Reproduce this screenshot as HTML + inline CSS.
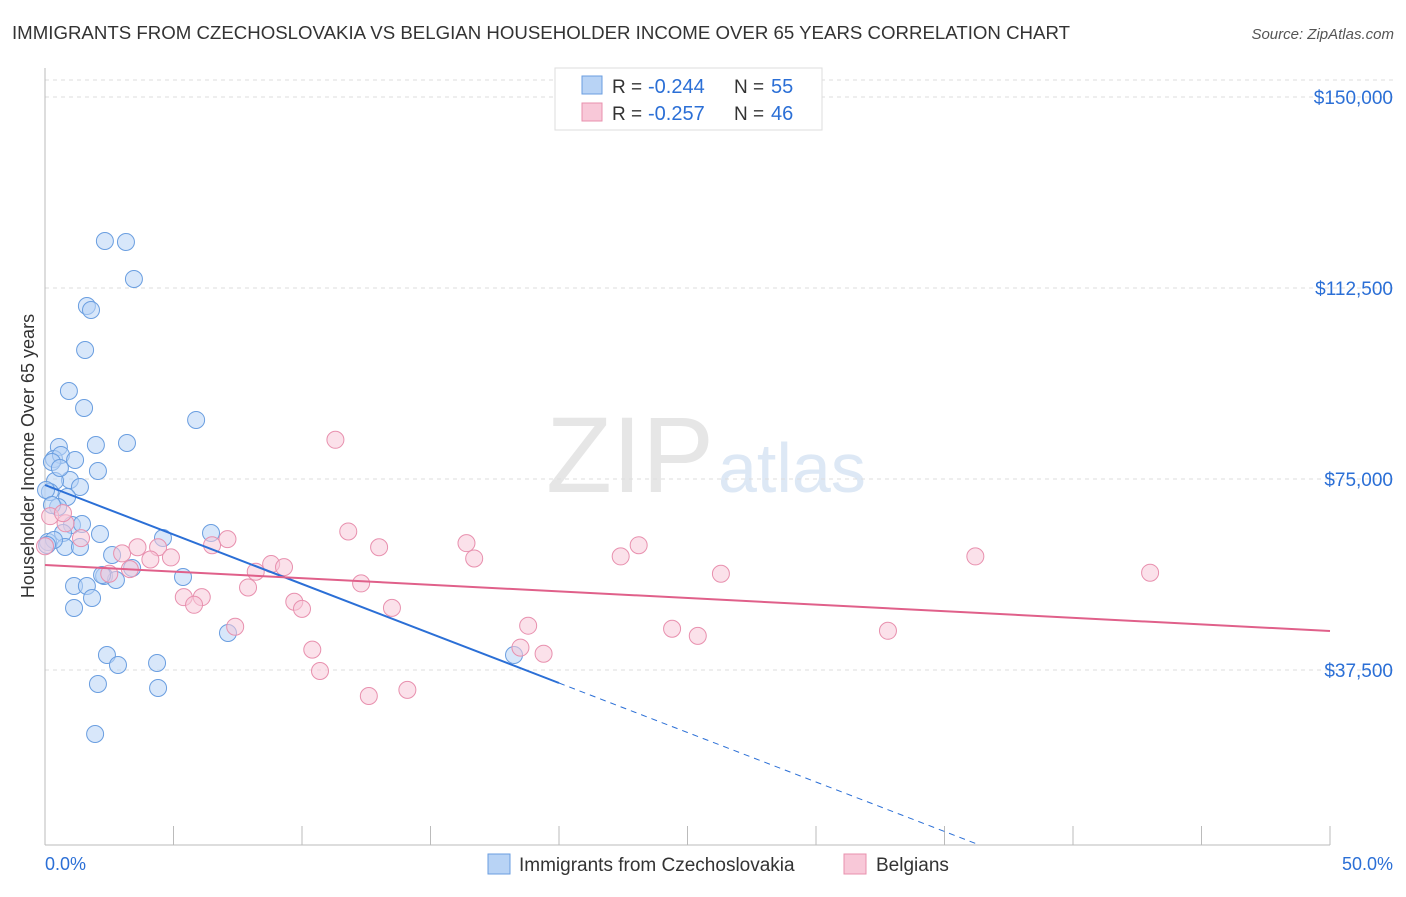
<!DOCTYPE html>
<html><head><meta charset="utf-8"><style>
body{margin:0;background:#fff;font-family:"Liberation Sans",sans-serif;}
svg text{font-family:"Liberation Sans",sans-serif;}
</style></head><body>
<svg id="chart" width="1406" height="892" xmlns="http://www.w3.org/2000/svg">
<text x="12" y="39" font-size="18.5" fill="#333" textLength="1058" lengthAdjust="spacingAndGlyphs">IMMIGRANTS FROM CZECHOSLOVAKIA VS BELGIAN HOUSEHOLDER INCOME OVER 65 YEARS CORRELATION CHART</text>
<text x="1394" y="39" font-size="15" fill="#555" font-style="italic" text-anchor="end">Source: ZipAtlas.com</text>
<text x="714" y="492" font-size="108" fill="#e6e6e6" text-anchor="end" font-family="Liberation Serif">ZIP</text>
<text x="718" y="492" font-size="70" fill="#dde8f5">atlas</text>
<g id="grid"></g><g id="marks"></g>
<text transform="translate(34,456) rotate(-90)" font-size="18" fill="#333" text-anchor="middle">Householder Income Over 65 years</text>
<g>
<rect x="555" y="68" width="267" height="62" fill="#fff" stroke="#ddd"/>
<rect x="582" y="76" width="20" height="18" fill="#b8d3f5" stroke="#6a9ee0"/>
<text x="612" y="93" font-size="19" fill="#333">R =</text>
<text x="648" y="93" font-size="20" fill="#2b6fd6">-0.244</text>
<text x="734" y="93" font-size="19" fill="#333">N =</text>
<text x="771" y="93" font-size="20" fill="#2b6fd6">55</text>
<rect x="582" y="103" width="20" height="18" fill="#f8c8d8" stroke="#e890ae"/>
<text x="612" y="120" font-size="19" fill="#333">R =</text>
<text x="648" y="120" font-size="20" fill="#2b6fd6">-0.257</text>
<text x="734" y="120" font-size="19" fill="#333">N =</text>
<text x="771" y="120" font-size="20" fill="#2b6fd6">46</text>
</g>
<g>
<rect x="488" y="854" width="22" height="20" fill="#b8d3f5" stroke="#6a9ee0"/>
<text x="519" y="871" font-size="19" fill="#333">Immigrants from Czechoslovakia</text>
<rect x="844" y="854" width="22" height="20" fill="#f8c8d8" stroke="#e890ae"/>
<text x="876" y="871" font-size="19" fill="#333">Belgians</text>
</g>
<text x="45" y="870" font-size="18" fill="#2b6fd6">0.0%</text>
<text x="1393" y="870" font-size="18" fill="#2b6fd6" text-anchor="end">50.0%</text>
</svg>
<script>
const yTicks=[37500,75000,112500,150000];
const yTickLabels=["$37,500","$75,000","$112,500","$150,000"];
const blueX=[2.33,3.15,3.46,1.63,1.79,1.56,0.93,1.52,5.88,1.98,3.19,0.54,0.35,0.62,1.17,0.27,2.06,0.97,1.36,0.39,0.19,0.86,0.51,1.05,1.44,0.70,2.14,6.46,4.59,0.12,0.78,1.36,2.61,3.39,5.37,2.30,2.76,1.13,1.63,1.83,1.13,7.12,2.41,2.84,4.36,2.06,4.40,1.95,18.25,0.35,0.04,0.58,0.08,2.22,0.27];
const blueY=[121730,121535,114270,108970,108180,100330,92280,88940,86590,81680,82070,81290,78930,79720,78730,78340,76570,74810,73430,74610,72450,71470,69510,65970,66170,64400,64200,64400,63420,62630,61650,61650,60080,57530,55760,55960,55170,53990,53990,51640,49670,44770,40450,38480,38880,34750,33970,24930,40450,63030,72840,77160,62040,56150,69900];
const pinkX=[11.3,11.8,7.1,6.5,13.0,16.4,16.7,23.1,22.4,36.2,43.0,26.3,3.0,3.6,4.4,4.9,4.1,3.3,8.8,9.3,7.9,12.3,5.4,6.1,5.8,9.7,10.0,13.5,7.4,18.8,24.4,25.4,32.8,10.4,18.5,19.4,10.7,12.6,14.1,0.8,1.4,0.2,0.0,0.7,8.2,2.5];
const pinkY=[82700,64700,63200,62000,61600,62400,59400,62000,59800,59800,56600,56400,60400,61600,61600,59600,59200,57300,58300,57700,53700,54500,51800,51800,50300,50900,49500,49700,46000,46200,45600,44200,45200,41500,41900,40700,37300,32400,33600,66300,63400,67700,61800,68300,56800,56400];
const blueTrend=[[0,73822],[20,34948]];
const blueTrendEnd=50;
const pinkTrend=[[0,58115],[50,45157]];
const X=p=>45+p/50*1285, Y=v=>861-v/37500*191;
const NS="http://www.w3.org/2000/svg";
function mk(t,a,parent){const e=document.createElementNS(NS,t);for(const k in a)e.setAttribute(k,a[k]);parent.appendChild(e);return e;}
const grid=document.getElementById('grid'), marks=document.getElementById('marks');
yTicks.forEach((v,i)=>{
 const l=mk('line',{x1:45,x2:1395,y1:Y(v),y2:Y(v),stroke:'#ddd','stroke-dasharray':'4,4'},grid);
 
 
 const t=mk('text',{x:1393,y:Y(v)+7,'font-size':19,fill:'#2b6fd6','text-anchor':'end'},grid);
 t.textContent=yTickLabels[i];
 
 
});
mk('line',{x1:45,x2:1395,y1:80,y2:80,stroke:'#ddd','stroke-dasharray':'4,4'},grid);
mk('line',{x1:45,x2:45,y1:68,y2:845,stroke:'#bbb'},grid);
mk('line',{x1:45,x2:1330,y1:845,y2:845,stroke:'#bbb'},grid);
for(let p=0;p<=50;p+=5){const t=mk('line',{x1:X(p),x2:X(p),y1:826,y2:845,stroke:'#bbb'},grid);
 
 }
function dots(xs,ys,fill,stroke,name){xs.forEach((x,i)=>{const c=mk('circle',{cx:X(x),cy:Y(ys[i]),r:8.5,fill:fill,'fill-opacity':0.55,stroke:stroke,'stroke-width':1},marks);
 
 });}
dots(blueX,blueY,'#b8d3f5','#6a9ee0','czech-point');
dots(pinkX,pinkY,'#f8c8d8','#e890ae','belgian-point');
const bs=(blueTrend[1][1]-blueTrend[0][1])/(blueTrend[1][0]-blueTrend[0][0]);
const xe=Math.min(blueTrendEnd,(Y(0)-16-Y(blueTrend[0][1]))/(Y(blueTrend[1][1])-Y(blueTrend[0][1]))*blueTrend[1][0]);
const bl=mk('line',{x1:X(blueTrend[0][0]),y1:Y(blueTrend[0][1]),x2:X(blueTrend[1][0]),y2:Y(blueTrend[1][1]),stroke:'#2b6fd6','stroke-width':2},marks);


const bd=mk('line',{x1:X(blueTrend[1][0]),y1:Y(blueTrend[1][1]),x2:X(xe),y2:Y(blueTrend[0][1]+bs*xe),stroke:'#2b6fd6','stroke-width':1,'stroke-dasharray':'6,5'},marks);


const pl=mk('line',{x1:X(pinkTrend[0][0]),y1:Y(pinkTrend[0][1]),x2:X(pinkTrend[1][0]),y2:Y(pinkTrend[1][1]),stroke:'#e0608a','stroke-width':2},marks);


</script>
</body></html>
